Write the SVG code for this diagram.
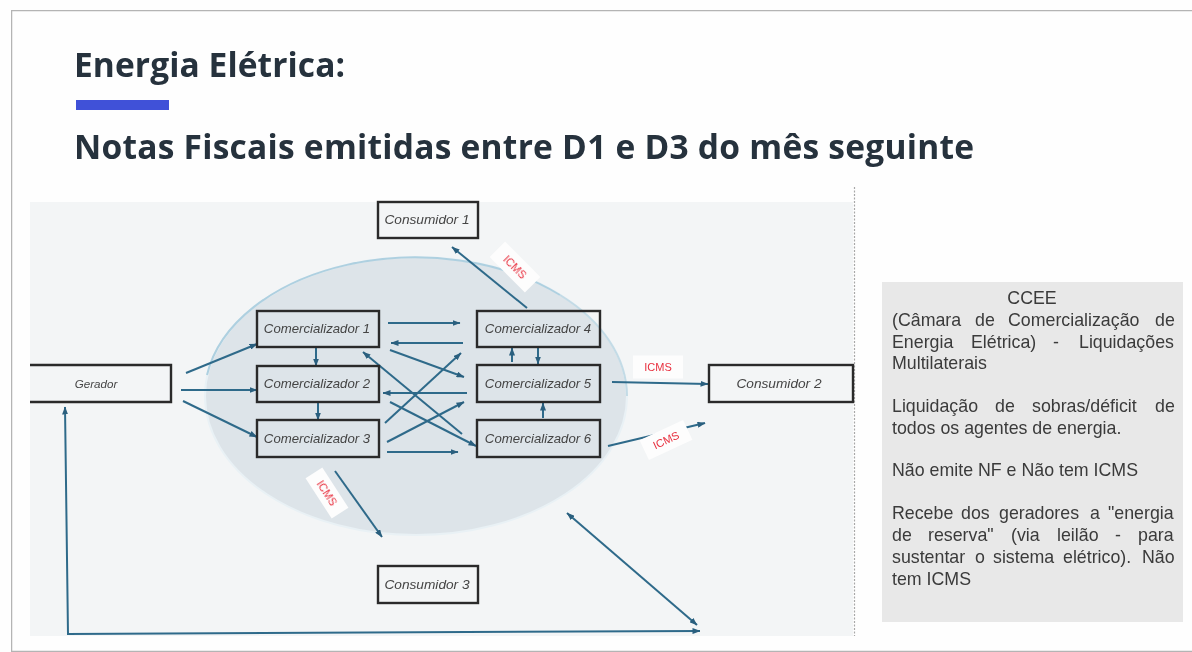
<svg xmlns="http://www.w3.org/2000/svg" width="1192" height="652" viewBox="0 0 1192 652">
<style>
.title{font-family:"Open Sans","Noto Sans",sans-serif;font-weight:700;fill:#25303c;font-size:33.500px}
.box{fill:none;stroke:#2a2a2a;stroke-width:2.4}
.lbl{font-family:"Liberation Sans",Arial,sans-serif;font-style:italic;fill:#444;text-anchor:middle;font-size:13.2px}
.cons{font-size:13.700px}
.c line,.c path{fill:none;stroke:#2f6a8a;stroke-width:2;marker-end:url(#a)}
.c .both{marker-start:url(#s)}
.tag rect{fill:#fdfdfd}
.tag text{font-family:"Liberation Sans",Arial,sans-serif;font-size:11px;fill:#e8303f;text-anchor:middle}
.note{font-family:"Liberation Sans",Arial,sans-serif;font-size:17.800px;fill:#3a3a3a}
</style>
<defs>
<marker id="a" viewBox="0 0 8 6" refX="7.500" refY="3" markerWidth="4" markerHeight="3" orient="auto"><path d="M0 0L8 3L0 6Z" fill="#2a5f7e"/></marker>
<marker id="s" viewBox="0 0 8 6" refX="0.500" refY="3" markerWidth="4" markerHeight="3" orient="auto"><path d="M8 0L0 3L8 6Z" fill="#2a5f7e"/></marker>
<filter id="soft" x="0" y="0" width="100%" height="100%"><feGaussianBlur stdDeviation="0.450"/></filter>
</defs>
<rect width="1192" height="652" fill="#fefefe"/>
<g filter="url(#soft)">
<path d="M1192 10.500H11.500V651.500H1192" fill="none" stroke="#b4b4b4" stroke-width="1.500"/>
<text class="title" x="74" y="76.500" textLength="271">Energia Elétrica:</text>
<rect x="76" y="100" width="93" height="10" fill="#3f51d8"/>
<text class="title" x="74" y="159" textLength="900">Notas Fiscais emitidas entre D1 e D3 do mês seguinte</text>
<rect x="30" y="202" width="823" height="434" fill="#f3f5f6"/>
<line x1="854.500" y1="187" x2="854.500" y2="636" stroke="#a8a8a8" stroke-width="1.200" stroke-dasharray="2 1.500"/>
<ellipse id="market" cx="416" cy="396" rx="211" ry="139" fill="#dde4e9" stroke="#e9f1f5" stroke-width="2"/>
<path d="M207 375A211 139 0 0 1 560 295" fill="none" stroke="#aed0e0" stroke-width="2"/>
<path d="M560 295A211 139 0 0 1 627 396" fill="none" stroke="#c3dbe6" stroke-width="2"/>

<g id="connectors" class="c">
<line x1="186" y1="373" x2="257" y2="344"/>
<line x1="181" y1="390" x2="257" y2="390"/>
<line x1="183" y1="401" x2="257" y2="437"/>
<line x1="316" y1="348" x2="316" y2="366"/>
<line x1="318" y1="403" x2="318" y2="420"/>
<line x1="388" y1="323" x2="460" y2="323"/>
<line x1="463" y1="343" x2="391" y2="343"/>
<line x1="390" y1="350" x2="464" y2="377"/>
<line x1="467" y1="393" x2="383" y2="393"/>
<line x1="385" y1="423" x2="461" y2="353"/>
<line x1="387" y1="442" x2="464" y2="402"/>
<line x1="387" y1="452" x2="458" y2="452"/>
<line x1="390" y1="402" x2="476" y2="446"/>
<line x1="462" y1="434" x2="363" y2="352"/>
<line x1="512" y1="362" x2="512" y2="348"/>
<line x1="538" y1="348" x2="538" y2="364"/>
<line x1="543" y1="418" x2="543" y2="403"/>
<line x1="527" y1="308" x2="452" y2="247"/>
<line x1="612" y1="382" x2="708" y2="384"/>
<line x1="608" y1="446" x2="705" y2="423"/>
<line x1="335" y1="471" x2="382" y2="537"/>
<line class="both" x1="567" y1="513" x2="697" y2="625"/>
<path class="both" d="M65 407L68 634L700 631"/>
</g>

<g id="consumidor1"><rect class="box" x="378" y="202" width="100" height="36"/><text class="lbl cons" x="427" y="224">Consumidor 1</text></g>
<g id="consumidor2"><rect class="box" x="709" y="365" width="144" height="37"/><text class="lbl cons" x="779" y="388">Consumidor 2</text></g>
<g id="consumidor3"><rect class="box" x="378" y="566" width="100" height="37"/><text class="lbl cons" x="427" y="589">Consumidor 3</text></g>
<g id="gerador"><path class="box" d="M30 365H171V402H30"/><text class="lbl" x="96" y="388" style="font-size:11.600px">Gerador</text></g>
<g id="comercializador1"><rect class="box" x="257" y="311" width="122" height="36"/><text class="lbl" x="317" y="333">Comercializador 1</text></g>
<g id="comercializador2"><rect class="box" x="257" y="366" width="122" height="36"/><text class="lbl" x="317" y="388">Comercializador 2</text></g>
<g id="comercializador3"><rect class="box" x="257" y="420" width="122" height="37"/><text class="lbl" x="317" y="443">Comercializador 3</text></g>
<g id="comercializador4"><rect class="box" x="477" y="311" width="123" height="36"/><text class="lbl" x="538" y="333">Comercializador 4</text></g>
<g id="comercializador5"><rect class="box" x="477" y="365" width="123" height="37"/><text class="lbl" x="538" y="388">Comercializador 5</text></g>
<g id="comercializador6"><rect class="box" x="477" y="420" width="123" height="37"/><text class="lbl" x="538" y="443">Comercializador 6</text></g>

<g id="tag1" class="tag" transform="translate(515 267) rotate(45)"><rect x="-25" y="-11" width="50" height="22"/><text y="4">ICMS</text></g>
<g id="tag2" class="tag" transform="translate(658 367)"><rect x="-25" y="-11.500" width="50" height="23"/><text y="4">ICMS</text></g>
<g id="tag3" class="tag" transform="translate(666 440) rotate(-25)"><rect x="-24" y="-11" width="48" height="22"/><text y="4">ICMS</text></g>
<g id="tag4" class="tag" transform="translate(327 493) rotate(57)"><rect x="-24" y="-10" width="48" height="20"/><text y="4">ICMS</text></g>

<g id="ccee">
<rect x="882" y="282" width="301" height="340" fill="#e8e8e8"/>
<text class="note" x="1032" y="304" text-anchor="middle">CCEE</text>
<text class="note" y="326"><tspan x="892">(Câmara</tspan><tspan x="975">de</tspan><tspan x="1008">Comercialização</tspan><tspan x="1155">de</tspan></text>
<text class="note" y="348"><tspan x="892">Energia</tspan><tspan x="971">Elétrica)</tspan><tspan x="1053">-</tspan><tspan x="1079">Liquidações</tspan></text>
<text class="note" x="892" y="369">Multilaterais</text>
<text class="note" y="412"><tspan x="892">Liquidação</tspan><tspan x="995">de</tspan><tspan x="1032">sobras/déficit</tspan><tspan x="1155">de</tspan></text>
<text class="note" x="892" y="434">todos os agentes de energia.</text>
<text class="note" x="892" y="476">Não emite NF e Não tem ICMS</text>
<text class="note" y="519"><tspan x="892">Recebe</tspan><tspan x="961">dos</tspan><tspan x="999">geradores</tspan><tspan x="1090">a</tspan><tspan x="1108">"energia</tspan></text>
<text class="note" y="541"><tspan x="892">de</tspan><tspan x="928">reserva"</tspan><tspan x="1011">(via</tspan><tspan x="1057">leilão</tspan><tspan x="1115">-</tspan><tspan x="1138">para</tspan></text>
<text class="note" y="563"><tspan x="892">sustentar</tspan><tspan x="975">o</tspan><tspan x="993">sistema</tspan><tspan x="1063">elétrico).</tspan><tspan x="1142">Não</tspan></text>
<text class="note" x="892" y="585">tem ICMS</text>
</g>
</g>
</svg>
